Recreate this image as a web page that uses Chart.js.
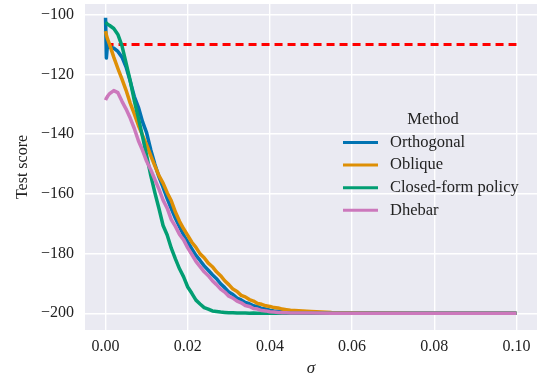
<!DOCTYPE html>
<html>
<head>
<meta charset="utf-8">
<script src="https://cdn.jsdelivr.net/npm/chart.js@4/dist/chart.umd.min.js"></script>
<style>
  html, body { margin: 0; padding: 0; background: #fff; }
</style>
</head>
<body>
<canvas id="chart" width="537" height="380"></canvas>
<script>
// sigma grid shared by all methods
var sigma = [0, 0.0002, 0.0005,
  0.001, 0.002, 0.003, 0.004, 0.005, 0.006, 0.007, 0.008, 0.009, 0.010,
  0.011, 0.012, 0.013, 0.014, 0.015, 0.016, 0.017, 0.018, 0.019, 0.020,
  0.021, 0.022, 0.023, 0.024, 0.025, 0.026, 0.027, 0.028, 0.029, 0.030,
  0.031, 0.032, 0.033, 0.034, 0.035, 0.036, 0.037, 0.038, 0.039, 0.040,
  0.041, 0.042, 0.043, 0.044, 0.045,
  0.05, 0.055, 0.06, 0.065, 0.07, 0.075, 0.08, 0.085, 0.09, 0.095, 0.1];

var orthogonal = [-101, -114.5, -109.5,
  -110.8, -111.2, -112.3, -114.2, -117.5, -122.3, -127.4, -131, -135.8, -139.6,
  -145.2, -150.1, -154.3, -157.8, -161.6, -164.9, -168.2, -171, -173.8, -176.1,
  -178.4, -180.6, -182.3, -184.1, -185.6, -187.1, -188.4, -190.1, -191.4, -192.9,
  -193.7, -194.9, -195.5, -196.4, -196.8, -197.5, -197.8, -198.4, -198.6, -199,
  -199.2, -199.3, -199.5, -199.6, -199.7,
  -199.8, -199.9, -199.9, -199.9, -200, -200, -200, -200, -200, -200, -200];

var oblique = [-105.5, -106.8, -108.2,
  -110, -114.2, -118, -121.6, -125.3, -129.6, -133.2, -137.1, -140.4, -143.6,
  -147.2, -150.6, -153.9, -156.4, -159.6, -162.3, -166.1, -169.2, -171.7, -173.9,
  -176.2, -177.9, -180.1, -181.4, -183.2, -184.4, -186.1, -187.4, -189.1, -190.4,
  -191.9, -192.7, -194, -194.5, -195.4, -195.9, -196.7, -197, -197.5, -197.7,
  -198.1, -198.2, -198.6, -198.8, -199,
  -199.4, -199.7, -199.8, -199.9, -199.9, -200, -200, -200, -200, -200, -200];

var closedForm = [-102.5, -102.8, -103.2,
  -103.6, -104.6, -106.6, -110.4, -116.2, -122.1, -128.8, -134.6, -140.8, -147.2,
  -153.8, -159.6, -164.9, -170.6, -173.8, -178.2, -181.8, -185.1, -187.8, -191.2,
  -193.3, -195.6, -196.9, -198.1, -198.6, -199.2, -199.4, -199.6, -199.7, -199.8,
  -199.8, -199.9, -199.9, -199.9, -200, -199.9, -200, -200, -199.9, -200,
  -200, -200, -200, -200, -200,
  -200, -200, -200, -200, -200, -200, -200, -200, -200, -200, -200];

var dhebar = [-128.6, -128, -127.3,
  -126.4, -125.4, -126.1, -129, -131.6, -134.6, -138.1, -142.2, -145.4, -149.1,
  -151.9, -155.2, -158.4, -162.1, -164.8, -168.6, -170.9, -173.6, -175.4, -178.1,
  -180.3, -182.6, -184.4, -186.1, -187.4, -189.1, -190.4, -191.9, -192.9, -194.3,
  -194.9, -195.9, -196.5, -197.4, -197.7, -198.4, -198.6, -199.1, -199.2, -199.5,
  -199.6, -199.7, -199.8, -199.8, -199.9,
  -199.9, -200, -200, -200, -200, -200, -200, -200, -200, -200, -200];

// reference level (red dashed)
var refSigma = [0, 0.1];
var refScore = [-110, -110];

var methodNames = ['Orthogonal', 'Oblique', 'Closed-form policy', 'Dhebar'];
var methodColors = ['#0173B2', '#DE8F05', '#029E73', '#CC78BC'];

var xTicks = [0, 0.02, 0.04, 0.06, 0.08, 0.10];
var yTicks = [-200, -180, -160, -140, -120, -100];

function toPoints(xs, ys) {
  return xs.map(function(x, i) { return { x: x, y: ys[i] }; });
}

var serif = "'Liberation Serif', 'Times New Roman', serif";
Chart.defaults.font.family = serif;
Chart.defaults.font.size = 16;
Chart.defaults.color = '#222';

// gray panel behind the grid
var plotBackground = {
  id: 'plotBackground',
  beforeDraw: function(chart) {
    var a = chart.chartArea;
    var ctx = chart.ctx;
    ctx.save();
    ctx.fillStyle = '#EAEAF2';
    ctx.fillRect(a.left, a.top, a.right - a.left, a.bottom - a.top);
    ctx.restore();
  }
};

// legend with title, placed inside the plot like seaborn does
var methodLegend = {
  id: 'methodLegend',
  afterDatasetsDraw: function(chart) {
    var ctx = chart.ctx;
    ctx.save();
    ctx.font = '16.5px ' + serif;
    ctx.fillStyle = '#222';
    ctx.textBaseline = 'middle';
    ctx.textAlign = 'center';
    ctx.fillText('Method', 433, 120);
    ctx.textAlign = 'left';
    for (var i = 0; i < methodNames.length; i++) {
      var y = 142.5 + i * 22.6;
      ctx.strokeStyle = methodColors[i];
      ctx.lineWidth = 3;
      ctx.beginPath();
      ctx.moveTo(343, y);
      ctx.lineTo(378, y);
      ctx.stroke();
      ctx.fillText(methodNames[i], 390, y);
    }
    ctx.restore();
  }
};

var seriesData = [orthogonal, oblique, closedForm, dhebar];
var datasets = seriesData.map(function(vals, i) {
  return {
    label: methodNames[i],
    data: toPoints(sigma, vals),
    borderColor: methodColors[i],
    borderWidth: 3.5,
    pointRadius: 0,
    tension: 0,
    borderJoinStyle: 'round',
    order: 4 - i
  };
});
datasets.push({
  label: 'reference',
  data: toPoints(refSigma, refScore),
  borderColor: '#FF0000',
  borderWidth: 3,
  borderDash: [8, 5],
  pointRadius: 0,
  order: 5
});

new Chart(document.getElementById('chart'), {
  type: 'line',
  data: { datasets: datasets },
  plugins: [plotBackground, methodLegend],
  options: {
    responsive: false,
    animation: false,
    layout: { padding: { top: 4, right: 0, left: 0, bottom: 0 } },
    plugins: { legend: { display: false }, tooltip: { enabled: false } },
    scales: {
      x: {
        type: 'linear',
        min: -0.005,
        max: 0.105,
        afterBuildTicks: function(scale) {
          scale.ticks = xTicks.map(function(v) { return { value: v }; });
        },
        afterFit: function(scale) {
          scale.height = 50;
          scale.paddingLeft = 0;
          scale.paddingRight = 0;
        },
        ticks: {
          padding: 7,
          maxRotation: 0,
          callback: function(v) { return v.toFixed(2); }
        },
        grid: { color: '#FFFFFF', lineWidth: 1.4, drawTicks: false },
        border: { display: false },
        title: {
          display: true,
          text: 'σ',
          font: { style: 'italic', size: 17 },
          padding: { top: 0, bottom: 1 }
        }
      },
      y: {
        min: -205.6,
        max: -96.4,
        afterBuildTicks: function(scale) {
          scale.ticks = yTicks.map(function(v) { return { value: v }; });
        },
        afterFit: function(scale) {
          scale.width = 85;
          scale.paddingTop = 0;
          scale.paddingBottom = 0;
        },
        ticks: {
          padding: 11,
          callback: function(v) { return '\u2212' + Math.abs(v); }
        },
        grid: { color: '#FFFFFF', lineWidth: 1.4, drawTicks: false },
        border: { display: false },
        title: {
          display: true,
          text: 'Test score',
          padding: { top: 13, bottom: 0 }
        }
      }
    }
  }
});
</script>
</body>
</html>
